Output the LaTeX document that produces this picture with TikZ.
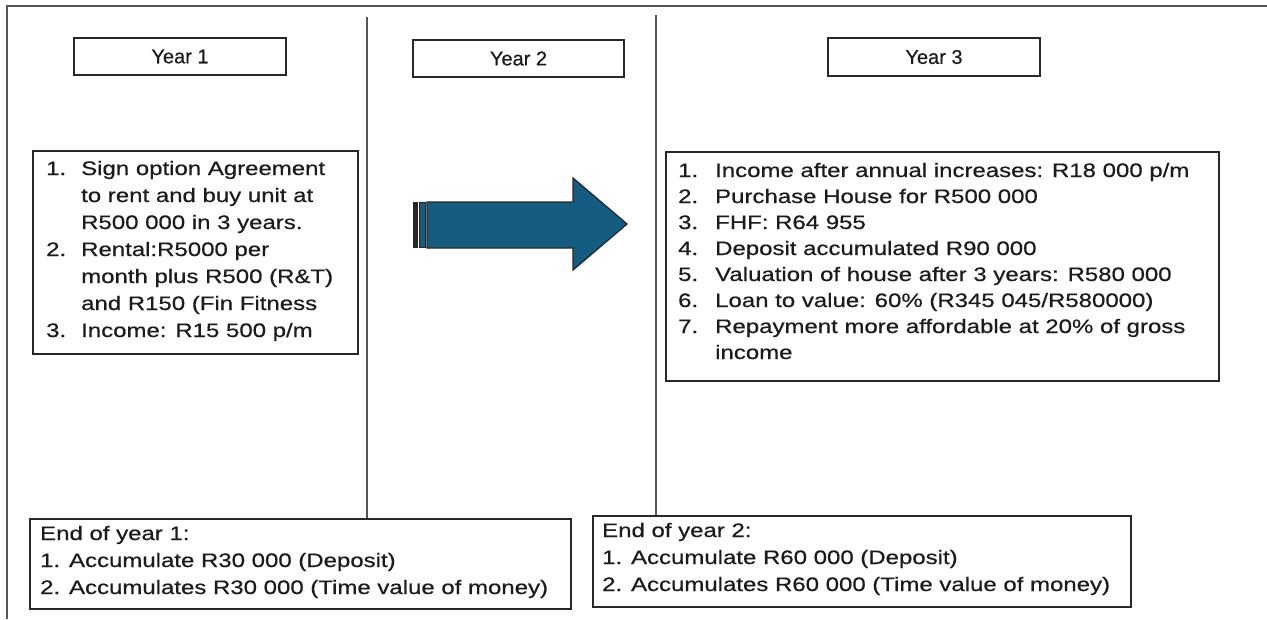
\documentclass[tikz,border=0pt]{standalone}
\usepackage{fontspec}
\setmainfont{Liberation Sans}
\newfontfamily\bodyfont[FakeStretch=1.23,FakeBold=0.6]{Liberation Sans}
\newfontfamily\hdrfont[FakeBold=0.5]{Liberation Sans}
\definecolor{arrowblue}{RGB}{20,92,128}
\definecolor{linegray}{RGB}{85,85,85}
\definecolor{boxgray}{RGB}{40,40,40}
\definecolor{txtgray}{RGB}{28,28,28}
\tikzset{
  frameline/.style={draw=linegray, line width=2.2pt},
  divider/.style={draw=linegray, line width=2pt},
  hdr/.style={draw=boxgray, line width=2pt, inner sep=0pt, text=txtgray,
    font=\hdrfont\fontsize{20}{24}\selectfont},
  panel/.style={draw=boxgray, line width=2pt, inner sep=0pt, anchor=north west},
  txt/.style={inner sep=0pt, anchor=base west, text=txtgray, align=left},
  arrowshape/.style={fill=arrowblue, draw=boxgray, line width=1.3pt, line join=miter}
}
\begin{document}
\begin{tikzpicture}[x=1pt,y=-1pt]
\useasboundingbox (0,0) rectangle (1267,619);
\fill[white] (0,0) rectangle (1267,619);
% outer frame (top and left)
\draw[frameline] (1267,6) -- (7,6) -- (7,619);

% headers
\node[hdr, minimum width=212pt, minimum height=37pt] (y1) at (180,56.5) {Year 1};
\node[hdr, minimum width=211pt, minimum height=37pt] (y2) at (518.5,58.5) {Year 2};
\node[hdr, minimum width=212pt, minimum height=38pt] (y3) at (934,57) {Year 3};

% year 1 panel
\node[panel, minimum width=325pt, minimum height=203pt] (b1) at (32,150) {};
\node[txt] (b1t) at (46,175) {\bodyfont\fontsize{19.5}{27}\selectfont
\begin{tabular}[t]{@{}p{35pt}@{}l@{}}
1. & Sign option Agreement\\
 & to rent and buy unit at\\
 & R500 000 in 3 years.\\
2. & Rental:R5000 per\\
 & month plus R500 (R\&T)\\
 & and R150 (Fin Fitness\\
3. & Income: R15 500 p/m
\end{tabular}};

% year 3 panel
\node[panel, minimum width=553pt, minimum height=229pt] (b3) at (665,151) {};
\node[txt] (b3t) at (678,177) {\bodyfont\fontsize{19.5}{26}\selectfont
\begin{tabular}[t]{@{}p{37pt}@{}l@{}}
1. & Income after annual increases: R18 000 p/m\\
2. & Purchase House for R500 000\\
3. & FHF: R64 955\\
4. & Deposit accumulated R90 000\\
5. & Valuation of house after 3 years: R580 000\\
6. & Loan to value: 60\% (R345 045/R580000)\\
7. & Repayment more affordable at 20\% of gross\\
 & income
\end{tabular}};

% end-of-year panels
\node[panel, minimum width=541pt, minimum height=90pt] (e1) at (29,518) {};
\node[txt] (e1t) at (40,540) {\bodyfont\fontsize{19.5}{27}\selectfont
\begin{tabular}[t]{@{}l@{}}
End of year 1:\\
1. Accumulate R30 000 (Deposit)\\
2. Accumulates R30 000 (Time value of money)
\end{tabular}};
\node[panel, minimum width=538pt, minimum height=91pt] (e2) at (592,515) {};
\node[txt] (e2t) at (602,537) {\bodyfont\fontsize{19.5}{27}\selectfont
\begin{tabular}[t]{@{}l@{}}
End of year 2:\\
1. Accumulate R60 000 (Deposit)\\
2. Accumulates R60 000 (Time value of money)
\end{tabular}};

% dividers
\coordinate (d1top) at (367,17);
\coordinate (d2top) at (656,15);
\draw[divider] (d1top) -- (d1top |- e1.north);
\draw[divider] (d2top) -- (d2top |- e2.north);

% block arrow
\fill[boxgray] (413,202) rectangle (418,248);
\filldraw[fill=arrowblue, draw=boxgray, line width=1pt] (419.5,202.5) rectangle (425.5,247.5);
\path[arrowshape] (427,202) -- (573,202) -- (573,178) -- (627,224) -- (573,270) -- (573,248) -- (427,248) -- cycle;
\end{tikzpicture}
\end{document}
